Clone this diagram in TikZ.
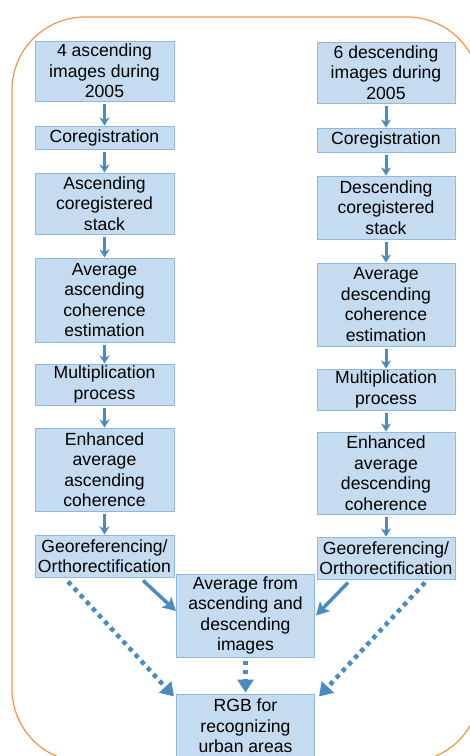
\documentclass[tikz,border=0pt]{standalone}
\usepackage{fontspec}
\setmainfont{Liberation Sans}
\usetikzlibrary{arrows.meta}
\definecolor{boxfill}{RGB}{197,220,240}
\definecolor{boxline}{RGB}{140,185,225}
\definecolor{arrowblue}{RGB}{74,139,196}
\definecolor{frameorange}{RGB}{242,150,70}
\begin{document}
\begin{tikzpicture}[x=1pt,y=-1pt,
  stepbox/.style={draw=boxline, fill=boxfill, line width=1pt, align=center,
    inner sep=0pt, font=\fontsize{17.6}{20.5}\selectfont, text=black},
  flow/.style={draw=arrowblue, line width=3pt, -{Stealth[length=8pt,width=10pt,inset=2.5pt]}},
  diag/.style={draw=arrowblue, line width=3.5pt, -{Stealth[length=13pt,width=14pt,inset=3pt]}},
  dotflow/.style={draw=arrowblue, line width=4.5pt, dash pattern=on 4.5pt off 4.5pt,
    -{Triangle[length=13pt,width=16pt]}}]
\clip (0,0) rectangle (470,756);
\draw[frameorange, line width=1.2pt, rounded corners=73pt] (12,17) rectangle (480,762);

% left column
\node[stepbox, minimum width=139pt, minimum height=60pt] (L1) at (104.5,71) {4 ascending\\images during\\2005};
\node[stepbox, minimum width=139pt, minimum height=23pt] (L2) at (104.5,137.5) {Coregistration};
\node[stepbox, minimum width=139pt, minimum height=61pt] (L3) at (104.5,203.5) {Ascending\\coregistered\\stack};
\node[stepbox, minimum width=139pt, minimum height=84pt] (L4) at (104.5,300) {Average\\ascending\\coherence\\estimation};
\node[stepbox, minimum width=139pt, minimum height=41pt] (L5) at (104.5,384.5) {Multiplication\\process};
\node[stepbox, minimum width=139pt, minimum height=83pt] (L6) at (104.5,469.5) {Enhanced\\average\\ascending\\coherence};
\node[stepbox, minimum width=139pt, minimum height=42pt] (L7) at (104.5,556) {Georeferencing/\\Orthorectification};

% right column
\node[stepbox, minimum width=138pt, minimum height=61pt] (R1) at (386,72.5) {6 descending\\images during\\2005};
\node[stepbox, minimum width=138pt, minimum height=24pt] (R2) at (386,140) {Coregistration};
\node[stepbox, minimum width=138pt, minimum height=63pt] (R3) at (386,207.5) {Descending\\coregistered\\stack};
\node[stepbox, minimum width=138pt, minimum height=83pt] (R4) at (386,304.5) {Average\\descending\\coherence\\estimation};
\node[stepbox, minimum width=138pt, minimum height=41pt] (R5) at (386,389.5) {Multiplication\\process};
\node[stepbox, minimum width=138pt, minimum height=82pt] (R6) at (386,473) {Enhanced\\average\\descending\\coherence};
\node[stepbox, minimum width=138pt, minimum height=42pt] (R7) at (386,558) {Georeferencing/\\Orthorectification};

% middle
\node[stepbox, minimum width=138pt, minimum height=83pt] (Avg) at (245.5,615.5) {Average from\\ascending and\\descending\\images};
\node[stepbox, minimum width=138pt, minimum height=64pt] (RGB) at (245.5,726) {RGB for\\recognizing\\urban areas};

% vertical arrows
\draw[flow] ([yshift=-2pt]L1.south) -- (L2.north);
\draw[flow] ([yshift=-2pt]L2.south) -- (L3.north);
\draw[flow] ([yshift=-2pt]L3.south) -- (L4.north);
\draw[flow] ([yshift=-2pt]L4.south) -- (L5.north);
\draw[flow] ([yshift=-2pt]L5.south) -- (L6.north);
\draw[flow] ([yshift=-2pt]L6.south) -- (L7.north);
\draw[flow] ([yshift=-2pt]R1.south) -- (R2.north);
\draw[flow] ([yshift=-2pt]R2.south) -- (R3.north);
\draw[flow] ([yshift=-2pt]R3.south) -- (R4.north);
\draw[flow] ([yshift=-2pt]R4.south) -- (R5.north);
\draw[flow] ([yshift=-2pt]R5.south) -- (R6.north);
\draw[flow] ([yshift=-2pt]R6.south) -- (R7.north);

% diagonal solid arrows
\draw[diag] ([xshift=38.5pt,yshift=-3pt]L7.south) -- ([yshift=4.5pt]Avg.west);
\draw[diag] ([xshift=-38pt,yshift=-3pt]R7.south) -- ([xshift=1pt]Avg.east);

% dotted arrows
\draw[dotflow] ([xshift=-36.5pt,yshift=-4pt]L7.south) -- ([xshift=-2pt,yshift=-3pt]RGB.north west);
\draw[dotflow] ([xshift=39pt,yshift=-3pt]R7.south) -- ([xshift=4pt,yshift=-3pt]RGB.north east);
\draw[dotflow] ([yshift=-3pt]Avg.south) -- ([yshift=1pt]RGB.north);
\end{tikzpicture}
\end{document}
